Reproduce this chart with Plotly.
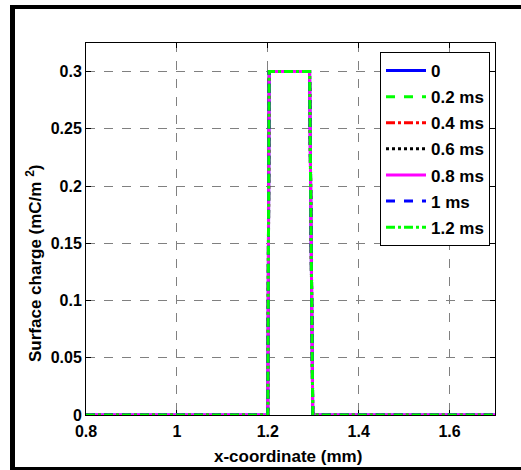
import plotly.graph_objects as go

# Data
x_mm = [0.8, 1.0, 1.2, 1.203, 1.25, 1.292, 1.299, 1.5, 1.7]
labels = ["0", "0.2 ms", "0.4 ms", "0.6 ms", "0.8 ms", "1 ms", "1.2 ms"]
q_0 = [0, 0, 0, 0.3, 0.3, 0.3, 0, 0, 0]
q_02 = [0, 0, 0, 0.3, 0.3, 0.3, 0, 0, 0]
q_04 = [0, 0, 0, 0.3, 0.3, 0.3, 0, 0, 0]
q_06 = [0, 0, 0, 0.3, 0.3, 0.3, 0, 0, 0]
q_08 = [0, 0, 0, 0.3, 0.3, 0.3, 0, 0, 0]
q_10 = [0, 0, 0, 0.3, 0.3, 0.3, 0, 0, 0]
q_12 = [0, 0, 0, 0.3, 0.3, 0.3, 0, 0, 0]
series = [q_0, q_02, q_04, q_06, q_08, q_10, q_12]
colors = ["#0000ff", "#00ff00", "#ff0000", "#000000", "#ff00ff", "#0000ff", "#00ff00"]
dashes = ["solid", "dash", "dashdot", "dot", "solid", "dash", "dashdot"]
x_ticks = [0.8, 1.0, 1.2, 1.4, 1.6]
x_tick_text = ["0.8", "1", "1.2", "1.4", "1.6"]
y_ticks = [0, 0.05, 0.1, 0.15, 0.2, 0.25, 0.3]
y_tick_text = ["0", "0.05", "0.1", "0.15", "0.2", "0.25", "0.3"]

FONT = "Liberation Sans, Arial, sans-serif"

fig = go.Figure()
for i, (lab, ys) in enumerate(zip(labels, series)):
    fig.add_trace(go.Scatter(
        x=x_mm, y=ys, mode="lines", name=lab, legendgroup=f"g{i}",
        line=dict(color=colors[i], dash=dashes[i], width=3),
    ))

W, H = 521, 470
L, R, T, B = 86, 26, 43, 55
pw, ph = W - L - R, H - T - B

def px(x):
    return (x - L) / pw

def py(y):
    return (H - B - y) / ph

shapes = [
    dict(type="line", xref="paper", yref="paper", x0=px(12.5), x1=px(12.5), y0=py(470), y1=py(5),
         line=dict(width=5, color="black"), layer="above"),
    dict(type="line", xref="paper", yref="paper", x0=px(10), x1=px(521), y0=py(468.5), y1=py(468.5),
         line=dict(width=3, color="black"), layer="above"),
]

bold16 = dict(family=FONT, size=16, color="black", weight="bold")
bold17 = dict(family=FONT, size=17, color="black", weight="bold")

axis_common = dict(
    showline=True, linecolor="black", linewidth=1, mirror="ticks",
    ticks="inside", ticklen=5, tickcolor="black",
    showgrid=True, gridcolor="#808080", griddash="dash", gridwidth=1,
    zeroline=False, layer="below traces",
    tickfont=bold16,
)

annotations = [
    dict(text="x-coordinate (mm)", xref="paper", yref="paper", x=px(288), y=py(457),
         xanchor="center", yanchor="middle", showarrow=False, font=bold17),
    dict(text="Surface charge (mC/m <sup>2</sup>)", xref="paper", yref="paper", x=px(34), y=py(264),
         xanchor="center", yanchor="middle", showarrow=False, textangle=-90, font=bold17),
]

fig.update_layout(
    width=W, height=H,
    margin=dict(l=L, r=R, t=T, b=B),
    paper_bgcolor="white", plot_bgcolor="white",
    font=dict(family=FONT, color="black"),
    shapes=shapes,
    annotations=annotations,
    showlegend=True,
    legend=dict(
        x=px(380), y=py(52), xanchor="left", yanchor="top",
        bordercolor="black", borderwidth=1, bgcolor="white",
        font=dict(family=FONT, size=17, color="black", weight="bold"),
        tracegroupgap=1, traceorder="grouped", itemwidth=40,
    ),
    xaxis=dict(
        range=[0.8, 1.7], tickvals=x_ticks, ticktext=x_tick_text,
        ticklabelstandoff=2,
        **axis_common,
    ),
    yaxis=dict(
        range=[0, 0.325], tickvals=y_ticks, ticktext=y_tick_text,
        **axis_common,
    ),
)

post = (
    "document.body.style.margin='0';document.body.style.padding='0';"
    "document.documentElement.style.overflow='hidden';"
    "var b=document.createElement('div');"
    "b.style.cssText='position:fixed;left:10px;top:5px;width:520px;height:4px;background:#000;z-index:9999;pointer-events:none;';"
    "document.body.appendChild(b);"
)

fig.write_html("out.html", config={"displayModeBar": False}, post_script=post)
